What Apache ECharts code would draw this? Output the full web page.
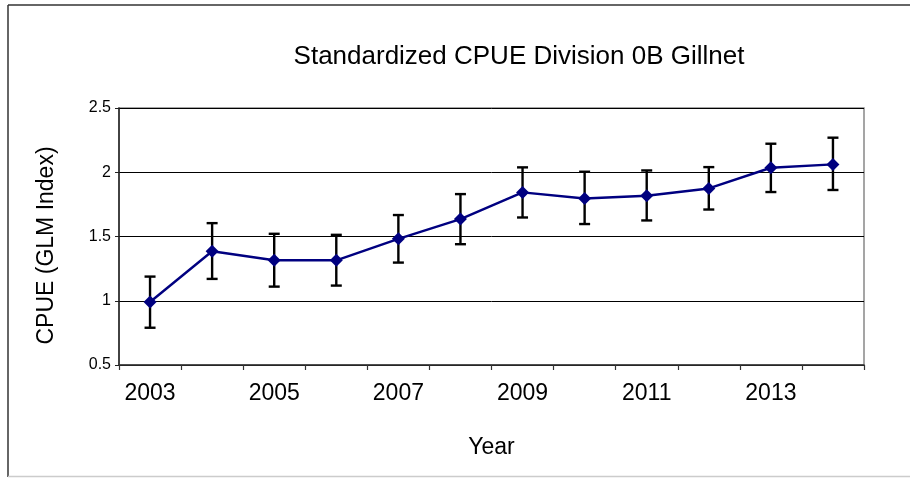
<!DOCTYPE html>
<html>
<head>
<meta charset="utf-8">
<script src="https://cdn.jsdelivr.net/npm/echarts@6/dist/echarts.min.js"></script>
<style>
  html, body { margin: 0; padding: 0; background: #fff; }
  #chart { width: 910px; height: 478px; }
</style>
</head>
<body>
<div id="chart"></div>
<script>
var years = ['2003', '2004', '2005', '2006', '2007', '2008', '2009', '2010', '2011', '2012', '2013', '2014'];
var cpue = [0.99, 1.385, 1.315, 1.315, 1.482, 1.636, 1.843, 1.796, 1.817, 1.874, 2.035, 2.061];
var lower = [0.79, 1.17, 1.11, 1.118, 1.297, 1.44, 1.648, 1.597, 1.625, 1.71, 1.846, 1.862];
var upper = [1.188, 1.604, 1.521, 1.513, 1.667, 1.83, 2.038, 2.004, 2.014, 2.04, 2.222, 2.269];

var errData = years.map(function (y, i) {
  return [i, lower[i], upper[i]];
});

var myChart = echarts.init(document.getElementById('chart'));

var option = {
  backgroundColor: '#fff',
  animation: false,
  textStyle: { fontFamily: 'Liberation Sans, Arial, sans-serif' },
  title: {
    text: 'Standardized CPUE Division 0B Gillnet',
    left: 514,
    top: 39,
    textAlign: 'center',
    textStyle: { fontSize: 26, fontWeight: 'normal', color: '#000' }
  },
  grid: {
    left: 119,
    right: 46,
    top: 108,
    bottom: 113,
    show: true,
    borderColor: '#888',
    borderWidth: 1.5
  },
  graphic: [
    { type: 'line', shape: { x1: 8, y1: 5, x2: 910, y2: 5 }, style: { stroke: '#333', lineWidth: 1.5 } },
    { type: 'line', shape: { x1: 8, y1: 5, x2: 8, y2: 477 }, style: { stroke: '#333', lineWidth: 1.5 } },
    { type: 'line', shape: { x1: 8, y1: 476.5, x2: 910, y2: 476.5 }, style: { stroke: '#ccc', lineWidth: 1.5 } }
  ],
  xAxis: {
    type: 'category',
    data: years,
    boundaryGap: true,
    name: 'Year',
    nameLocation: 'middle',
    nameGap: 71,
    nameTextStyle: { fontSize: 23, color: '#000' },
    axisLine: { lineStyle: { color: '#333', width: 1.5 } },
    axisTick: { show: true, length: 5, interval: 0, lineStyle: { color: '#333', width: 1.2 } },
    axisLabel: { interval: 1, fontSize: 23, color: '#000', margin: 17 },
    splitLine: { show: false }
  },
  yAxis: {
    type: 'value',
    min: 0.5,
    max: 2.5,
    interval: 0.5,
    name: 'CPUE (GLM Index)',
    nameLocation: 'middle',
    nameGap: 61,
    nameRotate: 90,
    nameTextStyle: { fontSize: 23, color: '#000', padding: [0, 18, 0, 0] },
    axisLine: { show: true, lineStyle: { color: '#222', width: 1.5 } },
    axisTick: { show: true, length: 4, lineStyle: { color: '#222', width: 1 } },
    axisLabel: { fontSize: 16, color: '#000', margin: 8 },
    splitLine: { show: true, lineStyle: { color: '#000', width: 1 } }
  },
  series: [
    {
      type: 'custom',
      z: 1,
      data: errData,
      encode: { x: 0, y: [1, 2] },
      renderItem: function (params, api) {
        var lo = api.coord([api.value(0), api.value(1)]);
        var hi = api.coord([api.value(0), api.value(2)]);
        var hw = 5.5;
        var style = { stroke: '#000', lineWidth: 2.4, fill: null };
        return {
          type: 'group',
          children: [
            { type: 'line', shape: { x1: lo[0], y1: lo[1], x2: hi[0], y2: hi[1] }, style: style },
            { type: 'line', shape: { x1: lo[0] - hw, y1: lo[1], x2: lo[0] + hw, y2: lo[1] }, style: style },
            { type: 'line', shape: { x1: hi[0] - hw, y1: hi[1], x2: hi[0] + hw, y2: hi[1] }, style: style }
          ]
        };
      }
    },
    {
      type: 'line',
      z: 3,
      data: cpue,
      symbol: 'diamond',
      symbolSize: 13,
      lineStyle: { color: '#000080', width: 2.4 },
      itemStyle: { color: '#000080' }
    }
  ]
};

myChart.setOption(option);
</script>
</body>
</html>
